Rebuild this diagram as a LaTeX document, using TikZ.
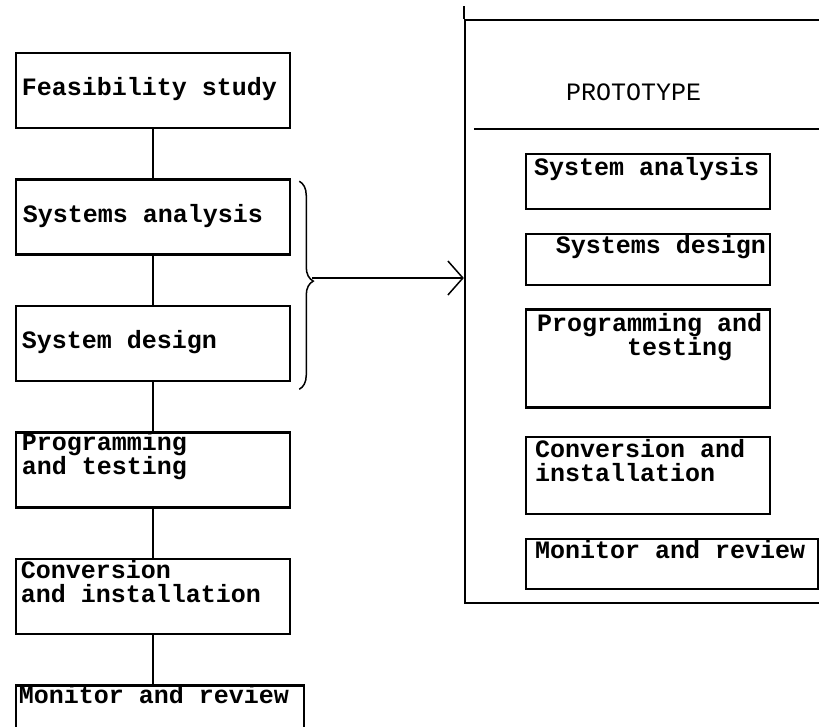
\documentclass[tikz,border=0pt]{standalone}
\usepackage{fontspec}
\newfontfamily\typewriter{Liberation Mono}
\usetikzlibrary{positioning,arrows.meta,decorations.pathreplacing}

\begin{document}
\begin{tikzpicture}[
		x=1pt, y=-1pt,
		node distance=49pt,
		stage/.style={draw, line width=2.5pt, inner sep=0pt, minimum width=274pt, minimum height=75pt},
		part/.style={draw, line width=2.3pt, inner sep=0pt, minimum width=244pt},
		caption/.style={anchor=base west, inner sep=0pt, align=left, font=\typewriter\bfseries\fontsize{25}{24}\selectfont},
	]
		\useasboundingbox (0,0) rectangle (819,726);

		% life cycle
		\node [stage] (feas) at (153,90.5) {};
		\node [stage, below=of feas] (sysan) {};
		\node [stage, below=of sysan] (sysdes) {};
		\node [stage, below=of sysdes] (prog) {};
		\node [stage, below=of prog] (conv) {};
		\node [stage, minimum width=288pt, minimum height=46pt, below=of conv.south west, anchor=north west] (mon) {};

		% multi-line captions sit on the baseline of their last line
		\node [caption] (feastxt) at ([shift={(7,44)}]feas.north west) {Feasibility study};
		\node [caption] (sysantxt) at ([shift={(8,44)}]sysan.north west) {Systems analysis};
		\node [caption] (sysdestxt) at ([shift={(7,44)}]sysdes.north west) {System design};
		\node [caption] (progtxt) at ([shift={(7,43)}]prog.north west) {Programming\\and testing};
		\node [caption] (convtxt) at ([shift={(6,45)}]conv.north west) {Conversion\\and installation};
		\node [caption] (montxt) at ([shift={(4,19)}]mon.north west) {Monitor and review};

		\draw [line width=2.2pt] (feas) -- (sysan);
		\draw [line width=2.2pt] (sysan) -- (sysdes);
		\draw [line width=2.2pt] (sysdes) -- (prog);
		\draw [line width=2.2pt] (prog) -- (conv);
		\draw [line width=2.2pt] (conv) -- (conv |- mon.north);

		% prototype
		\node [draw, line width=2.2pt, inner sep=0pt, minimum width=365pt, minimum height=583pt] (proto) at (647.5,311.5) {};
		\draw [line width=2.2pt] (proto.north west) -- ++(0,-13);
		\draw [line width=2.2pt] ([xshift=10pt, yshift=-110pt]proto.north west) -- ([yshift=-110pt]proto.north east);
		\node [caption, font=\typewriter\fontsize{25}{24}\selectfont] (title) at ([shift={(102,82)}]proto.north west) {PROTOTYPE};

		\node [part, minimum height=55pt] (pan) at (648,181.5) {};
		\node [part, minimum height=51pt, below=23pt of pan.south west, anchor=north west] (pdes) {};
		\node [part, minimum height=98pt, below=22pt of pdes.south west, anchor=north west] (pprog) {};
		\node [part, minimum height=77pt, below=27pt of pprog.south west, anchor=north west] (pconv) {};
		\node [part, minimum width=292pt, minimum height=50pt, below=23pt of pconv.south west, anchor=north west] (pmon) {};

		\node [caption] (pantxt) at ([shift={(9,23)}]pan.north west) {System analysis};
		\node [caption, anchor=base east] (pdestxt) at ([shift={(-5,20)}]pdes.north east) {Systems design};
		\node [caption] (pprogtxt) at ([shift={(12,47)}]pprog.north west) {Programming and\\\phantom{xxxxxx}testing};
		\node [caption] (pconvtxt) at ([shift={(10,46)}]pconv.north west) {Conversion and\\installation};
		\node [caption] (pmontxt) at ([shift={(10,20)}]pmon.north west) {Monitor and review};

		% brace and arrow
		\draw [line width=1.5pt, decorate, decoration={brace, amplitude=14pt, aspect=0.48}] ([shift={(8,3)}]sysan.north east) -- ([shift={(8,7)}]sysdes.south east);
		\coordinate (tip) at (312,278);
		\draw [line width=1.5pt, -{Straight Barb[length=15pt, width=34pt]}] (tip) -- (tip -| proto.west);
	\end{tikzpicture}
\end{document}
